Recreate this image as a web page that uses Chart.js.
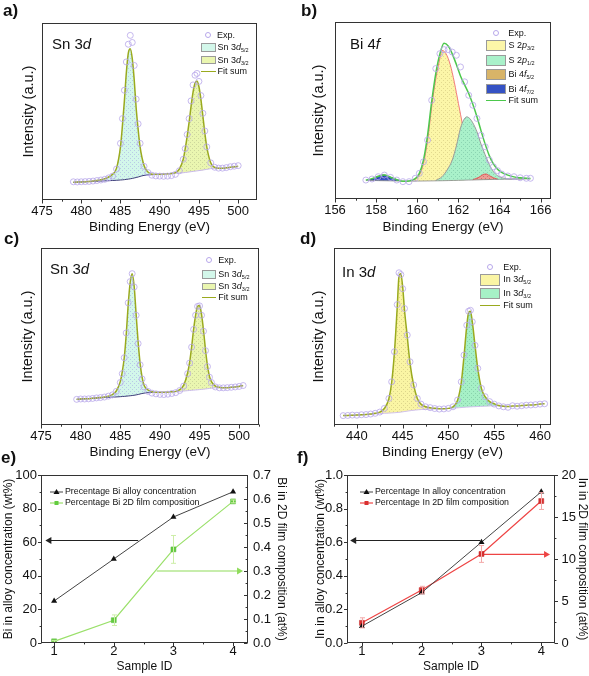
<!DOCTYPE html>
<html>
<head>
<meta charset="utf-8">
<script src="https://cdn.jsdelivr.net/npm/chart.js@4.4.1/dist/chart.umd.min.js"></script>
<style>
  body { margin: 0; background: #fff; font-family: "Liberation Sans", Arial, sans-serif; color: #111; }
  #fig { position: relative; width: 589px; height: 676px; overflow: hidden; }
  #fig canvas { position: absolute; }
  .lab { position: absolute; font-size: 17px; font-weight: bold; line-height: 17px; }
  .ins { position: absolute; font-size: 15px; line-height: 15px; }
  .t9 { position: absolute; font-size: 9px; line-height: 9px; white-space: nowrap; }
  .t9 sub { font-size: 5.5px; line-height: 0; vertical-align: -1.5px; }
  .t88 { position: absolute; font-size: 8.8px; line-height: 9px; white-space: nowrap; }
  .sw { position: absolute; box-sizing: border-box; border: 1px solid #9a9a9a; }
  .ln { position: absolute; height: 0; border-top: 1.5px solid; }
  .ci { position: absolute; box-sizing: border-box; width: 6px; height: 6px; border: 1px solid #b7a7ea; border-radius: 50%; }
  #fig svg { position: absolute; }
</style>
</head>
<body>
<div id="fig">
  <canvas id="chartA" width="275" height="240" style="left:0;top:0"></canvas>
  <canvas id="chartB" width="280" height="240" style="left:295px;top:0"></canvas>
  <canvas id="chartC" width="275" height="240" style="left:0;top:225px"></canvas>
  <canvas id="chartD" width="280" height="240" style="left:295px;top:225px"></canvas>
  <canvas id="chartE" width="295" height="226" style="left:0;top:450px"></canvas>
  <canvas id="chartF" width="296" height="226" style="left:295px;top:450px"></canvas>

  <div class="lab" style="left:3px;top:2px">a)</div>
  <div class="lab" style="left:301px;top:2px">b)</div>
  <div class="lab" style="left:4px;top:230px">c)</div>
  <div class="lab" style="left:300px;top:230px">d)</div>
  <div class="lab" style="left:1px;top:449px">e)</div>
  <div class="lab" style="left:297px;top:449px">f)</div>

  <div class="ins" style="left:52px;top:36px">Sn 3<i>d</i></div>
  <div class="ins" style="left:350px;top:36px">Bi 4<i>f</i></div>
  <div class="ins" style="left:50px;top:261px">Sn 3<i>d</i></div>
  <div class="ins" style="left:342px;top:264px">In 3<i>d</i></div>

  <!-- legend a -->
  <div class="ci" style="left:205px;top:32px"></div>
  <div class="t9" style="left:217px;top:30.5px">Exp.</div>
  <div class="sw" style="left:201px;top:43px;width:15px;height:9px;background:#d3f7ea"></div>
  <div class="t9" style="left:217.5px;top:43.2px">Sn 3<i>d</i><sub>5/2</sub></div>
  <div class="sw" style="left:201px;top:56px;width:15px;height:8px;background:#eaf6b0"></div>
  <div class="t9" style="left:217.5px;top:55.5px">Sn 3<i>d</i><sub>3/2</sub></div>
  <div class="ln" style="left:201px;top:71px;width:15px;border-color:#9aaa1e"></div>
  <div class="t9" style="left:217.5px;top:67.2px">Fit sum</div>

  <!-- legend b -->
  <div class="ci" style="left:492.7px;top:30.3px"></div>
  <div class="t9" style="left:508.3px;top:28.8px">Exp.</div>
  <div class="sw" style="left:486px;top:40px;width:20px;height:11px;background:#fcf6a8"></div>
  <div class="t9" style="left:508.5px;top:41.2px">S 2<i>p</i><sub>3/2</sub></div>
  <div class="sw" style="left:486px;top:55px;width:20px;height:11px;background:#a9f1ca"></div>
  <div class="t9" style="left:508.5px;top:55.8px">S 2<i>p</i><sub>1/2</sub></div>
  <div class="sw" style="left:486px;top:69px;width:20px;height:11px;background:#d8b468"></div>
  <div class="t9" style="left:508.5px;top:70.2px">Bi 4<i>f</i><sub>5/2</sub></div>
  <div class="sw" style="left:486px;top:84px;width:20px;height:10px;background:#3552c4"></div>
  <div class="t9" style="left:508.5px;top:84.8px">Bi 4<i>f</i><sub>7/2</sub></div>
  <div class="ln" style="left:486px;top:99.5px;width:20px;border-color:#4cc84c"></div>
  <div class="t9" style="left:508.5px;top:95.5px">Fit sum</div>

  <!-- legend c -->
  <div class="ci" style="left:206.3px;top:257px"></div>
  <div class="t9" style="left:218.3px;top:255.5px">Exp.</div>
  <div class="sw" style="left:202px;top:270px;width:14px;height:8.5px;background:#d3f7ea"></div>
  <div class="t9" style="left:218.3px;top:269.8px">Sn 3<i>d</i><sub>5/2</sub></div>
  <div class="sw" style="left:202px;top:282.5px;width:14px;height:7.5px;background:#eaf6b0"></div>
  <div class="t9" style="left:218.3px;top:281.5px">Sn 3<i>d</i><sub>3/2</sub></div>
  <div class="ln" style="left:202px;top:297px;width:14px;border-color:#9aaa1e"></div>
  <div class="t9" style="left:218.3px;top:293.2px">Fit sum</div>

  <!-- legend d -->
  <div class="ci" style="left:487px;top:264.3px"></div>
  <div class="t9" style="left:503.3px;top:262.8px">Exp.</div>
  <div class="sw" style="left:480px;top:273.5px;width:20px;height:12px;background:#faf5a4"></div>
  <div class="t9" style="left:503.3px;top:274.8px">In 3<i>d</i><sub>5/2</sub></div>
  <div class="sw" style="left:480px;top:288px;width:20px;height:11px;background:#a6f0c6"></div>
  <div class="t9" style="left:503.3px;top:288.8px">In 3<i>d</i><sub>3/2</sub></div>
  <div class="ln" style="left:480px;top:305px;width:20px;border-color:#9aaa1e"></div>
  <div class="t9" style="left:503.3px;top:301.2px">Fit sum</div>

  <!-- legend e -->
  <svg style="left:49px;top:487px" width="16" height="10"><line x1="1" y1="5" x2="14" y2="5" stroke="#444" stroke-width="1"/><polygon points="7.5,2 10.5,7 4.5,7" fill="#111"/></svg>
  <div class="t88" style="left:65px;top:487.3px">Precentage Bi alloy concentration</div>
  <svg style="left:49px;top:497.5px" width="16" height="10"><line x1="1" y1="5" x2="14" y2="5" stroke="#9ae06a" stroke-width="1.2"/><rect x="5.5" y="3" width="4" height="4" fill="#63cc3f"/></svg>
  <div class="t88" style="left:65px;top:498px">Percentage Bi 2D film composition</div>

  <!-- legend f -->
  <svg style="left:359px;top:486.5px" width="16" height="10"><line x1="1" y1="5" x2="14" y2="5" stroke="#444" stroke-width="1"/><polygon points="7.5,2 10.5,7 4.5,7" fill="#111"/></svg>
  <div class="t88" style="left:375px;top:486.8px">Percentage In alloy concentration</div>
  <svg style="left:359px;top:497.5px" width="16" height="10"><line x1="1" y1="5" x2="14" y2="5" stroke="#ee4444" stroke-width="1.2"/><rect x="5.5" y="3" width="4" height="4" fill="#d93030"/></svg>
  <div class="t88" style="left:375px;top:498px">Percentage In 2D film composition</div>
</div>

<script>
// ---- a) Sn 3d (first sample)
const aEnergy = [479, 479.5, 480, 480.5, 481, 481.5, 482, 482.5, 483, 483.5, 484, 484.5, 485, 485.25, 485.5, 485.75, 486, 486.25, 486.5, 486.75, 487, 487.25, 487.5, 488, 488.5, 489, 489.5, 490, 490.5, 491, 491.5, 492, 492.5, 493, 493.25, 493.5, 493.75, 494, 494.25, 494.5, 494.75, 495, 495.25, 495.5, 495.75, 496, 496.5, 497, 497.5, 498, 498.5, 499, 499.5, 500];
const aExp = [10.3, 10.2, 10.3, 10.4, 10.5, 10.7, 11, 11.3, 11.7, 12.5, 13.5, 17.5, 32, 46, 62, 78, 88, 93, 89, 76, 57, 43, 32, 19, 15.5, 14, 13.6, 13.5, 13.4, 13.5, 13.8, 14.5, 16.5, 23, 29, 37, 46, 56, 65, 70.5, 71.5, 67, 59, 49, 39, 30, 21, 18.5, 18, 18, 18.3, 18.8, 19.1, 19.4];
const aFit = [10, 10.1, 10.2, 10.3, 10.5, 10.7, 11, 11.4, 12, 13, 14.5, 18, 30, 42, 56, 72, 83, 85.5, 80, 68, 52, 40, 30, 19.5, 15.8, 14.6, 14.5, 14.6, 14.7, 14.8, 15, 15.5, 17.5, 23, 29, 36, 44, 53, 61, 66, 67.3, 64, 57, 47.5, 38, 30, 21, 18.5, 18, 18, 18.2, 18.5, 18.8, 19];
const aSn52E = [483, 483.5, 484, 484.5, 485, 485.25, 485.5, 485.75, 486, 486.25, 486.5, 486.75, 487, 487.25, 487.5, 488, 488.5, 489, 489.5, 490, 490.5];
const aSn52I = [11.5, 13, 14.5, 18, 30, 42, 56, 72, 83, 85.5, 80, 68, 52, 40, 30, 19.5, 15.8, 14.6, 14.5, 14.6, 14.7];
const aSn32E = [491, 491.5, 492, 492.5, 493, 493.25, 493.5, 493.75, 494, 494.25, 494.5, 494.75, 495, 495.25, 495.5, 495.75, 496, 496.5, 497, 497.5, 498];
const aSn32I = [14.8, 15, 15.5, 17.5, 23, 29, 36, 44, 53, 61, 66, 67.3, 64, 57, 47.5, 38, 30, 21, 18.5, 18, 18];
const aBgE = [479, 481, 483, 485, 486, 487, 488, 489, 490, 491, 492, 493, 494, 495, 496, 497, 498, 500];
const aBgI = [10, 10.4, 10.8, 11.3, 11.8, 12.7, 13.9, 14.3, 14.5, 14.7, 15, 15.4, 16, 16.6, 17.3, 18, 17.9, 18.9];

// ---- b) Bi 4f / S 2p
const bEnergy = [157.5, 157.8, 158.1, 158.4, 158.7, 159, 159.3, 159.6, 159.9, 160.1, 160.3, 160.5, 160.7, 160.9, 161.1, 161.3, 161.5, 161.7, 161.9, 162.1, 162.3, 162.5, 162.7, 162.9, 163.1, 163.3, 163.5, 163.7, 163.9, 164.1, 164.4, 164.7, 165, 165.3, 165.5];
const bExp = [10.7, 11.3, 12.6, 13.5, 12.2, 10.7, 9.8, 9.8, 11.7, 14.5, 21, 33.3, 55.8, 73.7, 82.1, 84.4, 84.4, 83, 81.2, 74.6, 66.2, 58.6, 53, 45.5, 36, 29.5, 22, 18.2, 16, 14.1, 13, 12.6, 12, 11.7, 11.7];
const bFit = [10.7, 11.5, 12.8, 13.5, 12.3, 10.9, 10, 10.2, 11.5, 14.5, 22, 36, 55, 71, 82, 88, 86.5, 82, 76, 69.5, 64.5, 59.6, 53.5, 46.5, 38.5, 31, 24.5, 19.8, 16.8, 15, 13.5, 12.5, 12, 11.7, 11.6];
const bS32E = [159.7, 160.1, 160.3, 160.5, 160.7, 160.9, 161.1, 161.2, 161.4, 161.6, 161.8, 162, 162.2, 162.4, 162.6, 162.8, 163, 163.3, 163.6];
const bS32I = [10.2, 13.5, 20, 33, 52, 68, 79.5, 84, 82, 76, 66, 54, 42, 31, 22, 16, 13, 11.5, 11];
const bS12E = [160.9, 161.2, 161.45, 161.7, 161.9, 162.1, 162.25, 162.4, 162.55, 162.7, 162.9, 163.1, 163.3, 163.5, 163.7, 163.9, 164.2, 164.6, 165.2];
const bS12I = [10.5, 12.6, 16.4, 22, 30, 40, 44.5, 46.4, 45.5, 43, 38, 31, 25, 19.5, 15.5, 13.2, 11.8, 11.3, 11.4];
const bBi52E = [162.7, 163, 163.2, 163.35, 163.5, 163.7, 163.9];
const bBi52I = [10.9, 12.3, 13.8, 14.1, 13.2, 12, 11.2];
const bBi72E = [157.6, 157.9, 158.1, 158.35, 158.6, 158.9, 159.2];
const bBi72I = [10.5, 11.5, 12.8, 13.6, 12.8, 11.3, 10.3];
const bBgE = [157.5, 158.5, 159.5, 160.5, 161.5, 162.5, 163.5, 164.5, 165.5];
const bBgI = [10.5, 10.3, 10.1, 10.2, 10.4, 10.7, 11, 11.2, 11.4];

// ---- c) Sn 3d (second sample)
const cEnergy = [479.5, 480, 480.5, 481, 481.5, 482, 482.5, 483, 483.5, 484, 484.5, 485, 485.25, 485.5, 485.75, 486, 486.25, 486.5, 486.75, 487, 487.25, 487.5, 487.75, 488, 488.5, 489, 489.5, 490, 490.5, 491, 491.5, 492, 492.5, 493, 493.5, 493.75, 494, 494.25, 494.5, 494.75, 495, 495.25, 495.5, 495.75, 496, 496.25, 496.5, 497, 497.5, 498, 498.5, 499, 499.5, 500, 500.5];
const cExp = [14.5, 14.7, 14.7, 14.8, 15, 15.3, 15.5, 15.8, 16.3, 17, 19, 24, 29, 38, 52, 69, 81, 85.5, 78, 62, 46, 34, 26, 21.5, 19, 18, 17.6, 17.3, 17.2, 17.4, 17.8, 18.3, 19.5, 22, 29, 35, 44, 54, 62, 67, 67.3, 62, 53, 42, 33, 27, 24, 21.5, 21, 21, 21.1, 21.3, 21.5, 21.8, 22.3];
const cFit = [14.5, 14.7, 14.8, 14.9, 15.1, 15.3, 15.5, 15.8, 16.3, 17.2, 19.2, 24.5, 30, 38, 51, 68, 80.5, 85.5, 78.5, 62.5, 47, 35, 27, 22.5, 19.8, 18.8, 18.5, 18.5, 18.5, 18.6, 18.8, 19, 20, 22.5, 29.5, 35.5, 44, 54, 62, 67, 67.5, 62.5, 53.5, 42.5, 33.5, 27.5, 24.5, 22, 21.3, 21, 21.1, 21.3, 21.5, 21.8, 22.3];
const cSn52E = [483, 483.5, 484, 484.5, 485, 485.25, 485.5, 485.75, 486, 486.25, 486.5, 486.75, 487, 487.25, 487.5, 487.75, 488, 488.5, 489, 489.5, 490];
const cSn52I = [15.8, 16.3, 17.2, 19.2, 24.5, 30, 38, 51, 68, 80.5, 85.5, 78.5, 62.5, 47, 35, 27, 22.5, 19.8, 18.8, 18.5, 18.5];
const cSn32E = [490.5, 491, 491.5, 492, 492.5, 493, 493.5, 493.75, 494, 494.25, 494.5, 494.75, 495, 495.25, 495.5, 495.75, 496, 496.25, 496.5, 497, 497.5, 498];
const cSn32I = [18.5, 18.6, 18.8, 19, 20, 22.5, 29.5, 35.5, 44, 54, 62, 67, 67.5, 62.5, 53.5, 42.5, 33.5, 27.5, 24.5, 22, 21.3, 21];
const cBgE = [479.5, 483, 485, 486, 487, 488, 489, 490, 491, 492, 493, 494, 495, 496, 497, 498, 500.5];
const cBgI = [14.5, 15.5, 16, 16.4, 17, 18, 18.4, 18.4, 18.5, 18.8, 19.2, 19.6, 20, 20.5, 21, 21, 22.3];

// ---- d) In 3d
const dEnergy = [438.5, 439, 439.5, 440, 440.5, 441, 441.5, 442, 442.5, 443, 443.5, 443.8, 444.1, 444.4, 444.6, 444.8, 445, 445.2, 445.5, 445.8, 446.2, 446.6, 447, 447.5, 448, 448.5, 449, 449.5, 450, 450.5, 451, 451.4, 451.7, 452, 452.2, 452.4, 452.6, 452.9, 453.2, 453.6, 454, 454.5, 455, 455.5, 456, 456.5, 457, 457.5, 458, 458.5, 459, 459.5, 460, 460.5];
const dExp = [5.3, 5.4, 5.6, 5.5, 5.8, 5.9, 6.2, 6.6, 7.3, 9.4, 15, 24.4, 41.4, 68, 86, 85, 77, 65.8, 50.8, 35.7, 22.6, 15, 11.8, 10.3, 9.8, 9.3, 9, 9.1, 9.4, 10.3, 14.1, 24.4, 39.5, 56.4, 64.3, 64.8, 58.3, 45, 32, 20.7, 16, 13.2, 11.8, 10.8, 10.3, 10, 10.9, 10.6, 10.9, 11.2, 11.3, 11.5, 11.8, 12];
const dFit = [5.3, 5.4, 5.5, 5.6, 5.8, 5.9, 6.2, 6.6, 7.3, 9.3, 15, 24, 41, 66, 84, 85.5, 78, 65, 50, 35, 22.5, 15, 11.8, 10.3, 9.8, 9.4, 9.2, 9.2, 9.4, 10.3, 14, 24, 39, 56, 63.5, 64.3, 58.5, 45, 32, 20.7, 16, 13.2, 12, 11, 10.6, 10.5, 10.7, 10.8, 11, 11.2, 11.3, 11.5, 11.8, 12];
const dIn52E = [442.5, 443, 443.5, 443.8, 444.1, 444.4, 444.6, 444.8, 445, 445.2, 445.5, 445.8, 446.2, 446.6, 447, 447.5, 448, 448.5, 449];
const dIn52I = [7.3, 9.3, 15, 24, 41, 66, 84, 85.5, 78, 65, 50, 35, 22.5, 15, 11.8, 10.3, 9.8, 9.4, 9.2];
const dIn32E = [449.5, 450, 450.5, 451, 451.4, 451.7, 452, 452.2, 452.4, 452.6, 452.9, 453.2, 453.6, 454, 454.5, 455, 455.5, 456];
const dIn32I = [9.2, 9.4, 10.3, 14, 24, 39, 56, 63.5, 64.3, 58.5, 45, 32, 20.7, 16, 13.2, 12, 11, 10.6];
const dBgE = [438.5, 441, 443, 444.5, 446, 447.5, 449, 450.5, 452, 453.5, 455, 456.5];
const dBgI = [5.3, 5.9, 6.6, 7.1, 8.2, 8.9, 9.1, 9.5, 10.1, 10.5, 10.8, 10.5];

// ---- e) / f) composition vs sample
const sampleId = [1, 2, 3, 4];
const biAlloy = [25, 50, 75, 90];
const biFilm = [0.007, 0.095, 0.39, 0.59];
const biFilmErr = [0.004, 0.022, 0.058, 0.006];
const biArrowAlloyX = [2.41, 0.92], biArrowAlloyY = [61, 61];
const biArrowFilmX = [2.72, 4.1], biArrowFilmY = [0.3, 0.3];

const inAlloy = [0.1, 0.3, 0.6, 0.9];
const inFilm = [2.4, 6.3, 10.6, 16.9];
const inFilmErr = [0.6, 0.45, 1.0, 1.0];
const inArrowAlloyX = [2.98, 0.87], inArrowAlloyY = [0.61, 0.61];
const inArrowFilmX = [3.04, 4.08], inArrowFilmY = [10.55, 10.55];

Chart.defaults.font.family = '"Liberation Sans", Arial, sans-serif';
Chart.defaults.color = '#111';

function pts(xs, ys) {
  return xs.map((x, i) => ({ x: x, y: ys[i] }));
}

// pale fill with a fine dot texture, like the original plot fills
function dots(base, dot) {
  const c = document.createElement('canvas');
  c.width = 4; c.height = 4;
  const g = c.getContext('2d');
  g.fillStyle = base; g.fillRect(0, 0, 4, 4);
  g.fillStyle = dot; g.fillRect(0, 0, 1, 1); g.fillRect(2, 2, 1, 1);
  return g.createPattern(c, 'repeat');
}

const frame = {
  id: 'frame',
  afterDraw(chart) {
    const a = chart.chartArea, ctx = chart.ctx;
    ctx.save();
    ctx.strokeStyle = '#333';
    ctx.lineWidth = 1;
    ctx.strokeRect(Math.round(a.left) + 0.5, Math.round(a.top) + 0.5,
      Math.round(a.right) - Math.round(a.left) - 1, Math.round(a.bottom) - Math.round(a.top) - 1);
    ctx.restore();
  }
};

// major + minor tick marks; dir 1 = outward, -1 = inward
const tickMarks = {
  id: 'tickMarks',
  afterDraw(chart, args, opts) {
    const axes = opts.axes || {};
    const a = chart.chartArea, ctx = chart.ctx;
    ctx.save();
    ctx.strokeStyle = '#333';
    ctx.lineWidth = 1;
    Object.keys(axes).forEach(id => {
      const s = chart.scales[id], o = axes[id];
      const majors = s.ticks.map(t => t.value);
      const mark = (v, len) => {
        const p = Math.round(s.getPixelForValue(v)) + 0.5;
        ctx.beginPath();
        if (s.position === 'bottom') {
          const b = Math.round(a.bottom) - 0.5;
          ctx.moveTo(p, b); ctx.lineTo(p, b + o.dir * len);
        } else if (s.position === 'left') {
          const l = Math.round(a.left) + 0.5;
          ctx.moveTo(l, p); ctx.lineTo(l - o.dir * len, p);
        } else {
          const r = Math.round(a.right) - 0.5;
          ctx.moveTo(r, p); ctx.lineTo(r + o.dir * len, p);
        }
        ctx.stroke();
      };
      majors.forEach(v => mark(v, o.len));
      if (o.minor) {
        const n0 = Math.ceil(s.min / o.minor - 1e-6), n1 = Math.floor(s.max / o.minor + 1e-6);
        for (let n = n0; n <= n1; n++) {
          const v = n * o.minor;
          if (!majors.some(m => Math.abs(m - v) < o.minor / 10)) mark(v, o.len * 0.55);
        }
      }
    });
    ctx.restore();
  }
};

const errorBars = {
  id: 'errorBars',
  afterDatasetsDraw(chart) {
    const ctx = chart.ctx;
    chart.data.datasets.forEach((ds, i) => {
      if (!ds.errors) return;
      const meta = chart.getDatasetMeta(i);
      const ys = chart.scales[ds.yAxisID];
      ctx.save();
      ctx.strokeStyle = ds.errColor;
      ctx.lineWidth = 1;
      meta.data.forEach((pt, j) => {
        const y1 = ys.getPixelForValue(ds.errBase[j] - ds.errors[j]);
        const y2 = ys.getPixelForValue(ds.errBase[j] + ds.errors[j]);
        const x = Math.round(pt.x) + 0.5;
        ctx.beginPath();
        ctx.moveTo(x, y1); ctx.lineTo(x, y2);
        ctx.moveTo(x - 2.5, y1); ctx.lineTo(x + 2.5, y1);
        ctx.moveTo(x - 2.5, y2); ctx.lineTo(x + 2.5, y2);
        ctx.stroke();
      });
      ctx.restore();
    });
  }
};

const noGrid = { display: false, drawTicks: false };

function spectrum(id, lay, xr, datasets) {
  new Chart(document.getElementById(id), {
    type: 'line',
    data: { datasets: datasets },
    options: {
      responsive: false, animation: false, devicePixelRatio: 1,
      layout: { padding: lay.pad },
      plugins: {
        legend: { display: false }, tooltip: { enabled: false },
        tickMarks: { axes: { x: { minor: xr.minor, len: 4, dir: 1 } } }
      },
      scales: {
        x: {
          type: 'linear', min: xr.min, max: xr.max,
          grid: noGrid, border: { display: false },
          ticks: { stepSize: xr.step, includeBounds: false, autoSkip: false, maxRotation: 0, padding: 4, font: { size: 13 } },
          title: { display: true, text: 'Binding Energy (eV)', font: { size: 13.5 }, padding: 0 },
          afterFit: s => { s.height = lay.xh; }
        },
        y: {
          min: 0, max: 100,
          grid: noGrid, border: { display: false },
          ticks: { display: false },
          title: { display: true, text: 'Intensity (a.u.)', font: { size: 14.5 }, padding: 0 },
          afterFit: s => { s.width = lay.yw; }
        }
      }
    },
    plugins: [frame, tickMarks]
  });
}

const lav = '#b7a7ea';
const olive = '#9aaa1e';
const expSet = (xs, ys) => ({
  data: pts(xs, ys), showLine: false, pointRadius: 3, pointBorderWidth: 0.8,
  pointBorderColor: lav, pointBackgroundColor: 'rgba(0,0,0,0)'
});
const fitSet = (xs, ys, col) => ({
  data: pts(xs, ys), borderColor: col, borderWidth: 1.5, pointRadius: 0, cubicInterpolationMode: 'monotone'
});
const areaSet = (xs, ys, fillCol, edge) => ({
  data: pts(xs, ys), borderColor: edge || 'rgba(0,0,0,0)', borderWidth: edge ? 1 : 0.1,
  pointRadius: 0, fill: 2, backgroundColor: fillCol, cubicInterpolationMode: 'monotone'
});

spectrum('chartA', { pad: { left: 20, right: 18, top: 23, bottom: 5 }, yw: 22, xh: 35 },
  { min: 475, max: 502.4, step: 5, minor: 2.5 }, [
    expSet(aEnergy, aExp),
    fitSet(aEnergy, aFit, olive),
    { data: pts(aBgE, aBgI), borderColor: '#3c3c78', borderWidth: 1, pointRadius: 0, tension: 0.4,
      segment: { borderColor: c => c.p0.parsed.x < 490 ? '#3c3c78' : '#c9b9ea' } },
    areaSet(aSn52E, aSn52I, dots('#d3f7ea', '#b9cbe6')),
    areaSet(aSn32E, aSn32I, dots('#eaf6b0', '#cdd79c'))
  ]);

spectrum('chartB', { pad: { left: 15, right: 24, top: 22, bottom: 5 }, yw: 25, xh: 36 },
  { min: 156, max: 166.5, step: 2, minor: 1 }, [
    expSet(bEnergy, bExp),
    fitSet(bEnergy, bFit, '#4cc84c'),
    { data: pts(bBgE, bBgI), borderColor: '#8a8a8a', borderWidth: 0.8, pointRadius: 0, tension: 0.4 },
    areaSet(bBi72E, bBi72I, dots('#3552c4', '#2a3f9a'), '#2a3c9a'),
    areaSet(bBi52E, bBi52I, dots('#eaa095', '#d86a6a'), '#e05a5a'),
    areaSet(bS12E, bS12I, dots('#a9f1ca', '#8bd4b2'), '#9a9a9a'),
    areaSet(bS32E, bS32I, dots('#fcf6a8', '#e2d98e'), '#f27a7a')
  ]);

spectrum('chartC', { pad: { left: 19, right: 16, top: 23, bottom: 5 }, yw: 22, xh: 35 },
  { min: 475, max: 502.5, step: 5, minor: 2.5 }, [
    expSet(cEnergy, cExp),
    fitSet(cEnergy, cFit, olive),
    { data: pts(cBgE, cBgI), borderColor: '#3c3c78', borderWidth: 1, pointRadius: 0, tension: 0.4,
      segment: { borderColor: c => c.p0.parsed.x < 489 ? '#3c3c78' : '#c9b9ea' } },
    areaSet(cSn52E, cSn52I, dots('#d3f7ea', '#b9cbe6')),
    areaSet(cSn32E, cSn32I, dots('#eaf6b0', '#cdd79c'))
  ]);

spectrum('chartD', { pad: { left: 15, right: 24, top: 23, bottom: 5 }, yw: 24, xh: 35 },
  { min: 437.5, max: 461.2, step: 5, minor: 2.5 }, [
    expSet(dEnergy, dExp),
    fitSet(dEnergy, dFit, olive),
    { data: pts(dBgE, dBgI), borderColor: '#d0c0ec', borderWidth: 1, pointRadius: 0, tension: 0.4 },
    areaSet(dIn52E, dIn52I, dots('#faf5a4', '#ddd68c')),
    areaSet(dIn32E, dIn32I, dots('#a6f0c6', '#88d2ac'))
  ]);

function sampleChart(id, lay, left, right, datasets) {
  new Chart(document.getElementById(id), {
    type: 'line',
    data: { datasets: datasets },
    options: {
      responsive: false, animation: false, devicePixelRatio: 1,
      layout: { padding: lay.pad },
      plugins: {
        legend: { display: false }, tooltip: { enabled: false },
        tickMarks: { axes: {
          x: { minor: 0.5, len: 3.5, dir: 1 },
          y: { minor: left.minor, len: 3.5, dir: 1 },
          y1: { minor: right.minor, len: 3.5, dir: right.dir }
        } }
      },
      scales: {
        x: {
          type: 'linear', min: lay.xmin, max: lay.xmax,
          grid: noGrid, border: { display: false },
          ticks: { stepSize: 1, includeBounds: false, padding: 1, font: { size: 13 } },
          title: { display: true, text: 'Sample ID', font: { size: 12 }, padding: 0 },
          afterFit: s => { s.height = lay.xh; }
        },
        y: {
          position: 'left', min: left.min, max: left.max,
          grid: noGrid, border: { display: false },
          ticks: { stepSize: left.step, includeBounds: false, padding: 4, font: { size: 13 }, callback: left.fmt },
          title: { display: true, text: left.title, font: { size: 12 }, padding: { top: left.tpad, bottom: 0 } },
          afterFit: s => { s.width = lay.yw; }
        },
        y1: {
          position: 'right', min: right.min, max: right.max,
          grid: noGrid, border: { display: false },
          ticks: { stepSize: right.step, includeBounds: false, padding: right.pad, font: { size: 13 }, callback: right.fmt },
          title: { display: true, text: right.title, font: { size: 12 }, padding: 0 },
          afterFit: s => { s.width = lay.y1w; }
        }
      }
    },
    plugins: [frame, tickMarks, errorBars]
  });
}

const arrowSet = (xs, ys, axis, col, rot) => ({
  data: pts(xs, ys), yAxisID: axis, borderColor: col, borderWidth: 1.2,
  pointStyle: 'triangle', pointRadius: [0, 4], pointRotation: [0, rot],
  pointBackgroundColor: col, pointBorderColor: col, pointBorderWidth: 0
});

sampleChart('chartE',
  { pad: { left: 0, right: 6, top: 25, bottom: 2 }, yw: 41, y1w: 41, xh: 31, xmin: 0.78, xmax: 4.25 },
  { min: 0, max: 100, step: 20, minor: 10, tpad: 1, title: 'Bi in alloy concentration (wt%)', fmt: v => v },
  { min: 0, max: 0.7, step: 0.1, minor: 0.05, dir: -1, pad: 5, title: 'Bi in 2D film composition (at%)', fmt: v => v.toFixed(1) },
  [
    { data: pts(sampleId, biAlloy), yAxisID: 'y', borderColor: '#444', borderWidth: 1,
      pointStyle: 'triangle', pointRadius: 3.5, pointBackgroundColor: '#111', pointBorderColor: '#111', pointBorderWidth: 0 },
    { data: pts(sampleId, biFilm), yAxisID: 'y1', borderColor: '#9ae06a', borderWidth: 1.2,
      pointStyle: 'rect', pointRadius: 3.5, pointBackgroundColor: '#63cc3f', pointBorderColor: '#55b838', pointBorderWidth: 0.5,
      errors: biFilmErr, errBase: biFilm, errColor: '#cdeea8' },
    arrowSet(biArrowAlloyX, biArrowAlloyY, 'y', '#222', -90),
    arrowSet(biArrowFilmX, biArrowFilmY, 'y1', '#8fdc5a', 90)
  ]);

sampleChart('chartF',
  { pad: { left: 18, right: 1, top: 25, bottom: 2 }, yw: 34, y1w: 35, xh: 31, xmin: 0.75, xmax: 4.23 },
  { min: 0, max: 1, step: 0.2, minor: 0.1, tpad: 0, title: 'In in alloy concentration (wt%)', fmt: v => v.toFixed(1) },
  { min: 0, max: 20, step: 5, minor: 2.5, dir: 1, pad: 6.5, title: 'In in 2D film composition (at%)', fmt: v => v },
  [
    { data: pts(sampleId, inAlloy), yAxisID: 'y', borderColor: '#444', borderWidth: 1,
      pointStyle: 'triangle', pointRadius: 3.5, pointBackgroundColor: '#111', pointBorderColor: '#111', pointBorderWidth: 0 },
    { data: pts(sampleId, inFilm), yAxisID: 'y1', borderColor: '#ee4444', borderWidth: 1.2,
      pointStyle: 'rect', pointRadius: 3.5, pointBackgroundColor: '#d93030', pointBorderColor: '#c02020', pointBorderWidth: 0.5,
      errors: inFilmErr, errBase: inFilm, errColor: '#f3a8a8' },
    arrowSet(inArrowAlloyX, inArrowAlloyY, 'y', '#222', -90),
    arrowSet(inArrowFilmX, inArrowFilmY, 'y1', '#ee4444', 90)
  ]);
</script>
</body>
</html>
